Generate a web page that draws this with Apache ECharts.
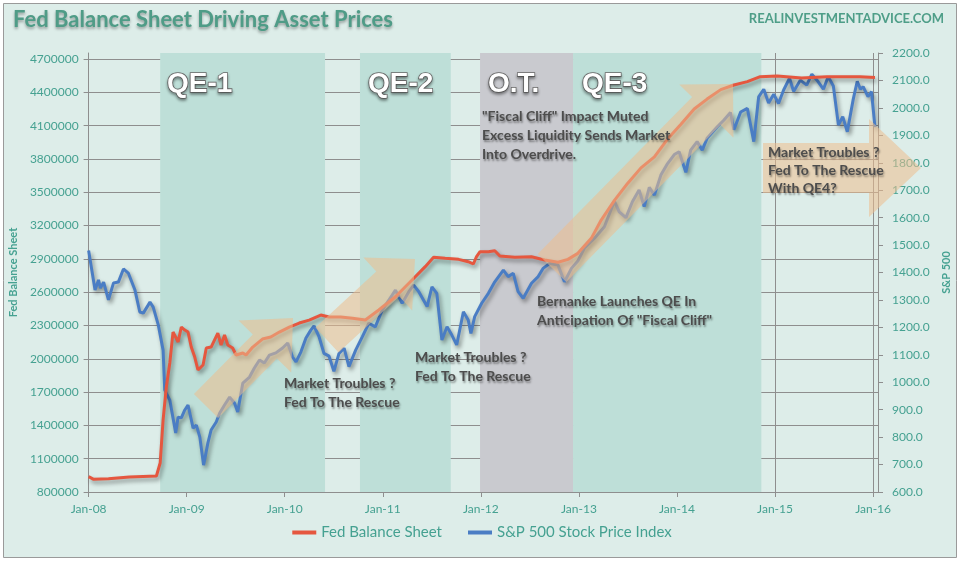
<!DOCTYPE html>
<html>
<head>
<meta charset="utf-8">
<title>Fed Balance Sheet Driving Asset Prices</title>
<script src="https://cdn.jsdelivr.net/npm/echarts@6/dist/echarts.min.js"></script>
<style>
  html, body { margin: 0; padding: 0; background: #fff; }
  #chart { width: 964px; height: 563px; }
</style>
</head>
<body>
<div id="chart"></div>
<script>
// 数据：近似值
const fedDates = [
  '2008-01-01', '2008-01-20', '2008-03-15', '2008-06-01', '2008-09-10', '2008-09-24', '2008-10-05', '2008-10-17',
  '2008-10-30', '2008-11-11', '2008-11-30', '2008-12-12', '2008-12-25', '2009-01-06', '2009-01-18', '2009-01-31',
  '2009-02-12', '2009-03-03', '2009-03-15', '2009-04-02', '2009-04-27', '2009-05-09', '2009-05-22', '2009-06-03',
  '2009-06-21', '2009-07-04', '2009-07-29', '2009-08-10', '2009-09-04', '2009-10-10', '2009-11-10', '2009-12-12',
  '2010-01-18', '2010-02-24', '2010-04-02', '2010-05-15', '2010-06-15', '2010-07-28', '2010-09-10', '2010-10-28',
  '2010-12-17', '2011-02-17', '2011-04-20', '2011-06-08', '2011-07-09', '2011-08-21', '2011-10-10', '2011-11-15',
  '2011-12-04', '2011-12-16', '2011-12-29', '2012-01-29', '2012-02-22', '2012-03-12', '2012-05-07', '2012-07-08',
  '2012-08-26', '2012-10-15', '2012-11-21', '2012-12-28', '2013-02-16', '2013-03-25', '2013-05-14', '2013-07-01',
  '2013-08-20', '2013-10-09', '2013-11-27', '2014-01-15', '2014-03-06', '2014-04-23', '2014-06-13', '2014-08-01',
  '2014-09-20', '2014-11-07', '2015-01-09', '2015-04-10', '2015-07-13', '2015-11-13', '2016-01-08'
]
const fedValues = [
  938000, 914000, 920000, 935000, 944000, 1061000, 1449000, 1746000,
  1962000, 2241000, 2151000, 2286000, 2259000, 2241000, 2106000, 2016000,
  1899000, 1944000, 2097000, 2106000, 2232000, 2124000, 2214000, 2124000,
  2097000, 2034000, 2052000, 2034000, 2106000, 2178000, 2196000, 2241000,
  2286000, 2322000, 2349000, 2394000, 2376000, 2376000, 2365000, 2349000,
  2440000, 2559000, 2710000, 2830000, 2915000, 2905000, 2896000, 2875000,
  2854000, 2920000, 2965000, 2965000, 2974000, 2926000, 2915000, 2920000,
  2890000, 2870000, 2896000, 2950000, 3085000, 3250000, 3430000, 3580000,
  3720000, 3820000, 3980000, 4110000, 4250000, 4340000, 4425000, 4467000,
  4497000, 4542000, 4548000, 4530000, 4542000, 4542000, 4535000
]

const spxDates = [
  '2008-01-01', '2008-01-25', '2008-02-07', '2008-02-14', '2008-02-26', '2008-03-15', '2008-04-03', '2008-04-21',
  '2008-05-10', '2008-05-28', '2008-06-22', '2008-07-10', '2008-07-23', '2008-08-17', '2008-08-29', '2008-09-17',
  '2008-10-05', '2008-10-11', '2008-10-30', '2008-11-21', '2008-11-30', '2008-12-12', '2008-12-25', '2009-01-06',
  '2009-01-25', '2009-02-06', '2009-02-19', '2009-03-05', '2009-03-21', '2009-04-02', '2009-04-21', '2009-05-04',
  '2009-05-22', '2009-06-10', '2009-06-28', '2009-07-10', '2009-07-29', '2009-08-23', '2009-09-10', '2009-09-29',
  '2009-10-17', '2009-11-05', '2009-11-29', '2009-12-24', '2010-01-12', '2010-01-30', '2010-02-12', '2010-03-02',
  '2010-03-21', '2010-04-08', '2010-04-20', '2010-05-09', '2010-05-27', '2010-06-15', '2010-07-03', '2010-07-22',
  '2010-08-10', '2010-08-28', '2010-09-22', '2010-10-17', '2010-11-10', '2010-12-04', '2010-12-30', '2011-02-05',
  '2011-02-17', '2011-03-14', '2011-04-08', '2011-04-26', '2011-05-15', '2011-06-15', '2011-07-03', '2011-07-21',
  '2011-08-09', '2011-08-28', '2011-09-15', '2011-10-03', '2011-10-28', '2011-11-15', '2011-11-25', '2011-12-09',
  '2012-01-04', '2012-01-29', '2012-02-22', '2012-03-25', '2012-04-12', '2012-05-01', '2012-05-19', '2012-06-07',
  '2012-07-08', '2012-08-02', '2012-08-20', '2012-09-14', '2012-10-15', '2012-11-08', '2012-12-04', '2012-12-28',
  '2013-01-22', '2013-02-28', '2013-04-06', '2013-05-13', '2013-05-31', '2013-06-25', '2013-07-19', '2013-08-13',
  '2013-09-01', '2013-09-20', '2013-10-09', '2013-11-02', '2013-11-27', '2013-12-22', '2014-01-09', '2014-02-03',
  '2014-02-21', '2014-03-17', '2014-04-05', '2014-04-23', '2014-05-31', '2014-06-25', '2014-07-19', '2014-08-01',
  '2014-08-26', '2014-09-20', '2014-10-14', '2014-11-01', '2014-11-20', '2014-12-08', '2014-12-27', '2015-01-14',
  '2015-02-02', '2015-02-24', '2015-03-11', '2015-04-05', '2015-04-29', '2015-05-18', '2015-06-06', '2015-06-30',
  '2015-07-18', '2015-08-06', '2015-08-25', '2015-09-10', '2015-09-27', '2015-10-19', '2015-11-03', '2015-11-15',
  '2015-11-25', '2015-12-13', '2015-12-26', '2016-01-08'
]
const spxValues = [
  1480, 1336, 1373, 1343, 1365, 1300, 1362, 1365,
  1413, 1398, 1336, 1256, 1252, 1292, 1274, 1209,
  1117, 972, 935, 815, 873, 870, 899, 917,
  833, 844, 800, 698, 779, 826, 855, 888,
  917, 946, 924, 892, 997, 1019, 1052, 1081,
  1070, 1099, 1107, 1125, 1143, 1092, 1074, 1110,
  1161, 1190, 1205, 1165, 1105, 1095, 1040, 1105,
  1124, 1057, 1117, 1166, 1215, 1202, 1263, 1318,
  1336, 1288, 1330, 1354, 1330, 1276, 1348, 1324,
  1154, 1202, 1172, 1136, 1257, 1227, 1178, 1239,
  1288, 1324, 1366, 1409, 1385, 1397, 1330, 1306,
  1361, 1385, 1415, 1433, 1427, 1366, 1415, 1442,
  1490, 1525, 1567, 1660, 1621, 1600, 1658, 1701,
  1640, 1710, 1682, 1755, 1797, 1830, 1840, 1765,
  1846, 1877, 1846, 1889, 1931, 1956, 1983, 1920,
  1985, 1998, 1877, 2040, 2068, 2018, 2050, 2016,
  2065, 2108, 2060, 2101, 2083, 2123, 2101, 2068,
  2114, 2080, 1937, 1968, 1913, 2031, 2097, 2068,
  2077, 2041, 2059, 1930
]

// 阴影区间 QE-1 / QE-2 / O.T. / QE-3
const periodNames = ['QE-1', 'QE-2', 'O.T.', 'QE-3']
const periodStarts = ['2008-09-24', '2010-10-08', '2011-12-29', '2012-12-10']
const periodEnds = ['2010-05-31', '2011-09-11', '2012-12-10', '2014-11-11']

const xTickYears = [2008, 2009, 2010, 2011, 2012, 2013, 2014, 2015, 2016]

// 日期 -> 小数年份
function toYear (s) {
  const [y, m, d] = s.split('-').map(Number)
  const t0 = Date.UTC(y, 0, 1)
  const t1 = Date.UTC(y + 1, 0, 1)
  return y + (Date.UTC(y, m - 1, d) - t0) / (t1 - t0)
}

// 画箭头多边形（装饰用）
function arrowPoints (tail, tip, bw, hw, hl) {
  const dx = tip[0] - tail[0]
  const dy = tip[1] - tail[1]
  const len = Math.sqrt(dx * dx + dy * dy)
  const ux = dx / len
  const uy = dy / len
  const px = -uy
  const py = ux
  const bx = tip[0] - ux * hl
  const by = tip[1] - uy * hl
  return [
    [tail[0] + px * bw / 2, tail[1] + py * bw / 2],
    [bx + px * bw / 2, by + py * bw / 2],
    [bx + px * hw / 2, by + py * hw / 2],
    tip,
    [bx - px * hw / 2, by - py * hw / 2],
    [bx - px * bw / 2, by - py * bw / 2],
    [tail[0] - px * bw / 2, tail[1] - py * bw / 2]
  ]
}

const FONT = 'Lato, "Open Sans", sans-serif'
const TEAL = '#45A191'
const RED = '#E5573F'
const BLUE = '#4A7DC4'
const GRID_COLOR = '#8E8E8E'

const fedData = fedDates.map((d, i) => [toYear(d), fedValues[i]])
const spxData = spxDates.map((d, i) => [toYear(d), spxValues[i]])

const areaColors = ['#BEDFD8', '#BEDFD8', '#C9CACF', '#BEDFD8']
const markAreaData = periodNames.map((name, i) => [
  { xAxis: toYear(periodStarts[i]), itemStyle: { color: areaColors[i] } },
  { xAxis: toYear(periodEnds[i]) }
])

const arrowStyle = { fill: 'rgba(236,190,142,0.55)' }
const arrows = [
  arrowPoints([206, 406], [293, 318], 34, 74, 40),
  arrowPoints([327, 340], [415, 259], 34, 72, 37),
  arrowPoints([552, 268], [733, 84], 40, 76, 38),
  arrowPoints([763, 168], [921, 168], 50, 98, 52)
]

const noteStyle = {
  fill: '#4D4D4D',
  font: 'bold 14px ' + FONT,
  textShadowColor: 'rgba(0,0,0,0.4)',
  textShadowBlur: 2,
  textShadowOffsetX: 1,
  textShadowOffsetY: 2
}
const notes = [
  { x: 284, y: 374, text: 'Market Troubles ?\nFed To The Rescue' },
  { x: 415, y: 348, text: 'Market Troubles ?\nFed To The Rescue' },
  { x: 537, y: 292, text: 'Bernanke Launches QE In\nAnticipation Of "Fiscal Cliff"' },
  { x: 482, y: 107, text: '"Fiscal Cliff" Impact Muted\nExcess Liquidity Sends Market\nInto Overdrive.' },
  { x: 768, y: 143, text: 'Market Troubles ?\nFed To The Rescue\nWith QE4?', lh: 18 }
]
const labelX = [167, 368, 488, 582]

const graphics = [
  {
    type: 'rect',
    z: -10,
    shape: { x: 3.5, y: 3.5, width: 953, height: 554 },
    style: { fill: '#DDEDE9', stroke: '#9A9A9A', lineWidth: 1 }
  },
  {
    type: 'text',
    right: 20,
    top: 12,
    style: { text: 'REALINVESTMENTADVICE.COM', fill: '#4E9E88', font: 'bold 13px ' + FONT }
  }
]
arrows.forEach(pts => {
  graphics.push({ type: 'polygon', z: 10, shape: { points: pts }, style: arrowStyle })
})
periodNames.forEach((name, i) => {
  graphics.push({
    type: 'text',
    z: 12,
    x: labelX[i],
    y: 70,
    style: {
      text: name,
      font: 'bold 28px "Liberation Sans", Arial, sans-serif',
      fill: '#FFFFFF',
      stroke: '#6A6A6A',
      lineWidth: 1.6,
      textShadowColor: 'rgba(0,0,0,0.35)',
      textShadowBlur: 3,
      textShadowOffsetY: 2
    }
  })
})
notes.forEach(n => {
  graphics.push({
    type: 'text',
    z: 12,
    x: n.x,
    y: n.y,
    style: Object.assign({}, noteStyle, { text: n.text, lineHeight: n.lh || 19 })
  })
})

const lineShadow = {
  shadowColor: 'rgba(0,0,0,0.4)',
  shadowBlur: 4,
  shadowOffsetX: 2,
  shadowOffsetY: 3
}

const myChart = echarts.init(document.getElementById('chart'))
myChart.setOption({
  backgroundColor: 'transparent',
  animation: false,
  title: {
    text: 'Fed Balance Sheet Driving Asset Prices',
    left: 8,
    top: 4,
    textStyle: {
      fontFamily: FONT,
      fontWeight: 'bold',
      fontSize: 22,
      color: '#4F9C87',
      textShadowColor: 'rgba(0,0,0,0.35)',
      textShadowBlur: 3,
      textShadowOffsetY: 2
    }
  },
  legend: {
    bottom: 18,
    left: 'center',
    icon: 'rect',
    itemWidth: 24,
    itemHeight: 4,
    itemGap: 26,
    textStyle: { color: TEAL, fontFamily: FONT, fontSize: 15 },
    data: ['Fed Balance Sheet', 'S&P 500 Stock Price Index']
  },
  grid: { left: 85, right: 86, top: 53, bottom: 71 },
  xAxis: {
    type: 'value',
    min: 2008,
    max: 2016.05,
    interval: 1,
    axisLine: { lineStyle: { color: GRID_COLOR } },
    axisTick: { show: true, length: 5, lineStyle: { color: GRID_COLOR } },
    splitLine: { show: true, showMaxLine: false, lineStyle: { color: GRID_COLOR, width: 1 } },
    axisLabel: {
      color: TEAL,
      fontFamily: FONT,
      fontSize: 12,
      margin: 11,
      showMaxLabel: false,
      formatter: v => xTickYears.includes(v) ? 'Jan-' + String(v).slice(2) : ''
    }
  },
  yAxis: [
    {
      type: 'value',
      min: 800000,
      max: 4755000,
      interval: 300000,
      position: 'left',
      name: 'Fed Balance Sheet',
      nameLocation: 'middle',
      nameGap: 66,
      nameTextStyle: { color: TEAL, fontFamily: FONT, fontWeight: 'bold', fontSize: 11 },
      axisLine: { show: true, lineStyle: { color: GRID_COLOR } },
      axisTick: { show: true, length: 5, lineStyle: { color: GRID_COLOR } },
      splitLine: { show: true, showMaxLine: false, lineStyle: { color: GRID_COLOR, width: 1 } },
      axisLabel: {
        color: TEAL,
        fontFamily: FONT,
        fontSize: 12,
        margin: 10,
        showMaxLabel: false,
        formatter: v => ((v - 800000) % 300000 === 0 ? String(v) : '')
      }
    },
    {
      type: 'value',
      min: 600,
      max: 2200,
      interval: 100,
      position: 'right',
      name: 'S&P 500',
      nameLocation: 'middle',
      nameGap: 60,
      nameTextStyle: { color: TEAL, fontFamily: FONT, fontWeight: 'bold', fontSize: 11 },
      axisLine: { show: true, lineStyle: { color: GRID_COLOR } },
      axisTick: { show: true, length: 5, lineStyle: { color: GRID_COLOR } },
      splitLine: { show: false },
      axisLabel: {
        color: TEAL,
        fontFamily: FONT,
        fontSize: 12,
        margin: 14,
        formatter: v => v.toFixed(1)
      }
    }
  ],
  series: [
    {
      name: 'S&P 500 Stock Price Index',
      type: 'line',
      yAxisIndex: 1,
      data: spxData,
      symbol: 'none',
      z: 3,
      lineStyle: Object.assign({ color: BLUE, width: 3 }, lineShadow),
      itemStyle: { color: BLUE }
    },
    {
      name: 'Fed Balance Sheet',
      type: 'line',
      yAxisIndex: 0,
      data: fedData,
      symbol: 'none',
      z: 4,
      lineStyle: Object.assign({ color: RED, width: 3 }, lineShadow),
      itemStyle: { color: RED },
      markArea: { silent: true, z: 1, data: markAreaData }
    }
  ],
  graphic: graphics
})
</script>
</body>
</html>
